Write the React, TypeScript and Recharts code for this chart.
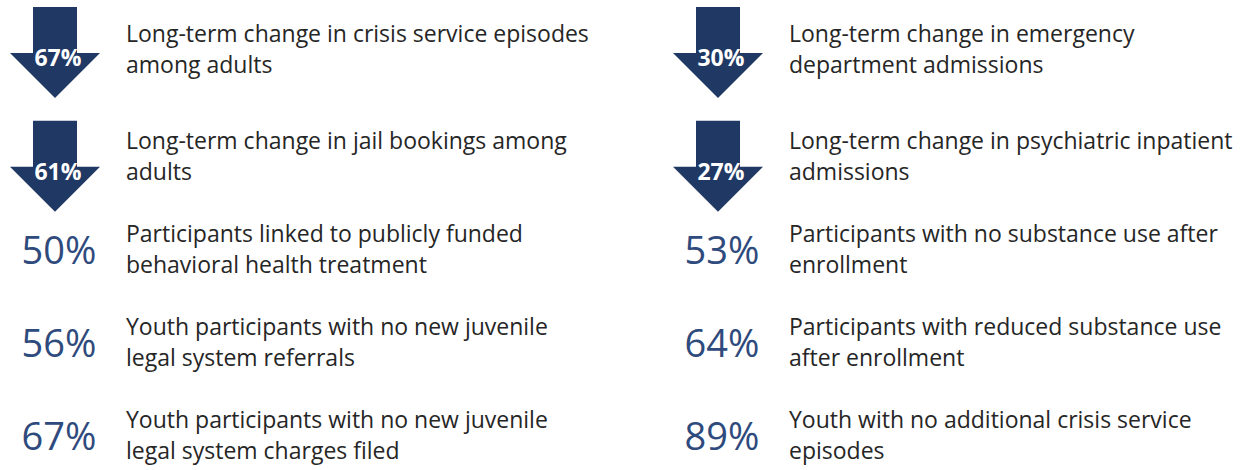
import { Scatter, ScatterChart, XAxis, YAxis } from 'recharts'

const WIDTH = 1247
const HEIGHT = 470
const NAVY = '#203864'
const BLUE = '#2F4A7C'
const INK = '#262626'
const FONT = '"Open Sans", "Liberation Sans", sans-serif'

// long-term change (down arrows)
const changeValues = [67, 30, 61, 27]
const changeLabels = [
  ['Long-term change in crisis service episodes', 'among adults'],
  ['Long-term change in emergency', 'department admissions'],
  ['Long-term change in jail bookings among', 'adults'],
  ['Long-term change in psychiatric inpatient', 'admissions'],
]
const changeCols = [0, 1, 0, 1]
const changeRows = [0, 0, 1.15, 1.15]

// participant outcomes (big numbers)
const shareValues = [50, 53, 56, 64, 67, 89]
const shareLabels = [
  ['Participants linked to publicly funded', 'behavioral health treatment'],
  ['Participants with no substance use after', 'enrollment'],
  ['Youth participants with no new juvenile', 'legal system referrals'],
  ['Participants with reduced substance use', 'after enrollment'],
  ['Youth participants with no new juvenile', 'legal system charges filed'],
  ['Youth with no additional crisis service', 'episodes'],
]
const shareCols = [0, 1, 0, 1, 0, 1]
const shareRows = [2.15, 2.15, 3.15, 3.15, 4.15, 4.15]

const changeData = changeValues.map((value, i) => ({ value, lines: changeLabels[i], col: changeCols[i], row: changeRows[i] }))
const shareData = shareValues.map((value, i) => ({ value, lines: shareLabels[i], col: shareCols[i], row: shareRows[i] }))

const COL_STEP = 663
const COL_START = 55
const ROW_STEP = 93
const ROW_START = 50
const xDomain = [-COL_START / COL_STEP, (WIDTH - COL_START) / COL_STEP]
const yDomain = [-ROW_START / ROW_STEP, (HEIGHT - ROW_START) / ROW_STEP]

function Caption({ x, y, lines }: { x: number; y: number; lines: string[] }) {
  return (
    <text fill={INK} fontFamily={FONT} fontSize={23} x={x}>
      <tspan x={x} y={y - 8}>{lines[0]}</tspan>
      <tspan x={x} y={y + 23}>{lines[1]}</tspan>
    </text>
  )
}

function ArrowMark(props: any) {
  const { cx, cy, payload } = props
  // arrows sit a little further apart than the caption rows
  const top = cy - 43 + 6 * payload.row
  const neck = top + 46
  const tip = top + 91
  const d = `M${cx - 22},${top} H${cx + 22} V${neck} H${cx + 45} L${cx},${tip} L${cx - 45},${neck} H${cx - 22} Z`
  return (
    <g>
      <path d={d} fill={NAVY} />
      <text fill="#FFFFFF" fontFamily={FONT} fontSize={23} fontWeight={700} textAnchor="middle" x={cx + 3} y={neck + 13}>
        {payload.value}%
      </text>
      <Caption lines={payload.lines} x={cx + 71} y={cy} />
    </g>
  )
}

function ShareMark(props: any) {
  const { cx, cy, payload } = props
  return (
    <g>
      <text fill={BLUE} fontFamily={FONT} fontSize={38} textAnchor="middle" x={cx + 4} y={cy + 14}>
        {payload.value}%
      </text>
      <Caption lines={payload.lines} x={cx + 71} y={cy} />
    </g>
  )
}

export default function App() {
  return (
    <div style={{ left: 0, position: 'absolute', top: 0, background: '#FFFFFF' }}>
      <ScatterChart height={HEIGHT} margin={{ bottom: 0, left: 0, right: 0, top: 0 }} width={WIDTH}>
        <XAxis dataKey="col" domain={xDomain} hide type="number" />
        <YAxis dataKey="row" domain={yDomain} hide reversed type="number" width={0} />
        <Scatter data={changeData} isAnimationActive={false} shape={ArrowMark} />
        <Scatter data={shareData} isAnimationActive={false} shape={ShareMark} />
      </ScatterChart>
    </div>
  )
}
